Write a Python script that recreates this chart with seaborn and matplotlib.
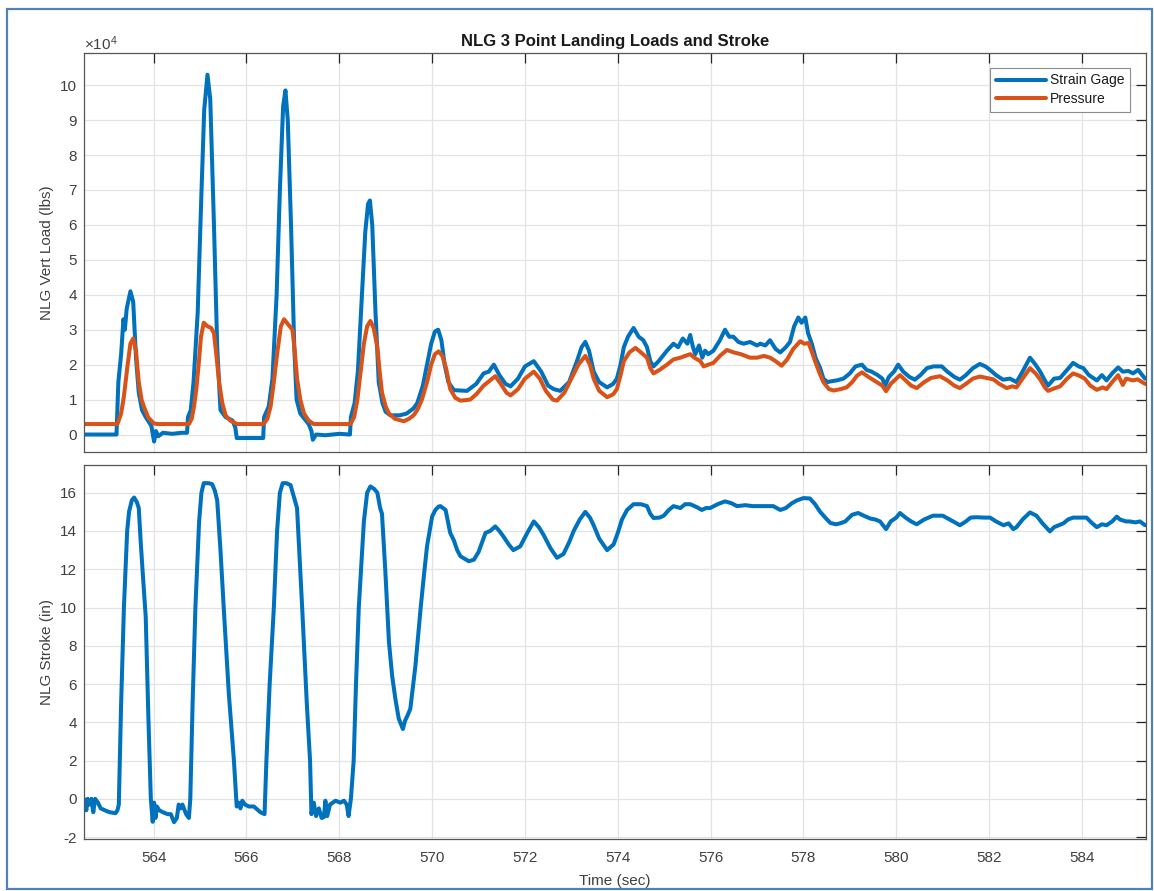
import numpy as np
import pandas as pd
import seaborn as sns
import matplotlib.pyplot as plt
from matplotlib.patches import Rectangle
from matplotlib.ticker import FuncFormatter

# ---- data (load values in units of 1e4 lbs) ----
sg_time = [562.5, 563.20, 563.24, 563.30, 563.35, 563.38, 563.42, 563.50, 563.56, 563.62,
           563.68, 563.75, 563.83, 563.95, 564.01, 564.05, 564.10, 564.2, 564.4, 564.6,
           564.72, 564.74, 564.80, 564.86, 564.95, 565.02, 565.09, 565.16, 565.22, 565.30,
           565.37, 565.44, 565.55, 565.70, 565.76, 565.79, 566.0, 566.36, 566.38, 566.48,
           566.56, 566.65, 566.72, 566.79, 566.84, 566.89, 566.96, 567.03, 567.08, 567.16,
           567.34, 567.40, 567.43, 567.5, 567.7, 568.0, 568.23, 568.25, 568.33, 568.40,
           568.48, 568.56, 568.62, 568.66, 568.71, 568.78, 568.85, 568.93, 569.0, 569.1,
           569.3, 569.45, 569.6, 569.68, 569.80, 569.89, 569.98, 570.06, 570.13, 570.20,
           570.27, 570.35, 570.47, 570.75, 570.95, 571.11, 571.22, 571.33, 571.45, 571.58,
           571.69, 571.85, 572.0, 572.19, 572.35, 572.5, 572.62, 572.76, 572.95, 573.12,
           573.22, 573.30, 573.38, 573.48, 573.60, 573.77, 573.90, 573.98, 574.06, 574.13,
           574.22, 574.34, 574.45, 574.55, 574.63, 574.70, 574.77, 574.88, 575.06, 575.2,
           575.3, 575.4, 575.5, 575.56, 575.62, 575.67, 575.75, 575.82, 575.88, 575.95,
           576.06, 576.2, 576.31, 576.40, 576.49, 576.6, 576.71, 576.85, 577.0, 577.07,
           577.18, 577.28, 577.40, 577.50, 577.62, 577.71, 577.80, 577.89, 577.96, 578.04,
           578.10, 578.18, 578.26, 578.36, 578.43, 578.52, 578.58, 578.72, 578.86, 579.0,
           579.12, 579.26, 579.36, 579.47, 579.60, 579.70, 579.76, 579.84, 579.95, 580.04,
           580.15, 580.28, 580.40, 580.52, 580.66, 580.80, 580.98, 581.10, 581.25, 581.37,
           581.50, 581.65, 581.80, 581.92, 582.02, 582.15, 582.30, 582.45, 582.59, 582.72,
           582.88, 583.00, 583.10, 583.20, 583.27, 583.40, 583.53, 583.68, 583.81, 583.93,
           584.03, 584.15, 584.32, 584.43, 584.53, 584.65, 584.78, 584.88, 585.00, 585.10,
           585.21, 585.30, 585.36]
sg_load = [0.0, 0.0, 1.5, 2.3, 3.3, 3.0, 3.6, 4.1, 3.8, 2.2,
           1.2, 0.7, 0.5, 0.25, -0.2, 0.1, -0.05, 0.05, 0.02, 0.05,
           0.05, 0.5, 0.7, 1.5, 3.5, 6.5, 9.3, 10.3, 9.6, 6.0,
           2.5, 0.7, 0.5, 0.4, 0.2, -0.1, -0.1, -0.1, 0.5, 0.8,
           1.6, 4.0, 7.0, 9.4, 9.85, 9.0, 6.0, 2.5, 1.0, 0.6,
           0.3, 0.1, -0.15, 0.0, -0.02, 0.02, 0.0, 0.5, 0.9, 1.8,
           3.8, 5.8, 6.6, 6.7, 6.0, 3.5, 1.5, 0.9, 0.65, 0.55,
           0.55, 0.6, 0.75, 0.9, 1.4, 2.0, 2.6, 2.95, 3.0, 2.7,
           2.0, 1.5, 1.27, 1.25, 1.45, 1.75, 1.8, 2.0, 1.7, 1.45,
           1.38, 1.6, 1.95, 2.1, 1.8, 1.4, 1.3, 1.25, 1.5, 2.1,
           2.5, 2.65, 2.4, 1.8, 1.5, 1.35, 1.45, 1.6, 2.0, 2.5,
           2.8, 3.05, 2.8, 2.7, 2.5, 2.1, 1.95, 2.1, 2.4, 2.6,
           2.5, 2.75, 2.6, 2.85, 2.5, 2.3, 2.55, 2.2, 2.4, 2.3,
           2.4, 2.7, 3.0, 2.8, 2.8, 2.65, 2.6, 2.65, 2.55, 2.6,
           2.55, 2.7, 2.45, 2.35, 2.5, 2.65, 3.1, 3.35, 3.2, 3.35,
           2.9, 2.6, 2.2, 1.9, 1.6, 1.5, 1.52, 1.55, 1.6, 1.75,
           1.95, 2.0, 1.85, 1.8, 1.7, 1.6, 1.4, 1.65, 1.8, 2.0,
           1.8, 1.65, 1.57, 1.7, 1.9, 1.95, 1.95, 1.8, 1.65, 1.57,
           1.7, 1.9, 2.02, 1.95, 1.85, 1.7, 1.57, 1.6, 1.5, 1.8,
           2.2, 2.0, 1.8, 1.55, 1.4, 1.6, 1.62, 1.85, 2.05, 1.95,
           1.9, 1.7, 1.55, 1.7, 1.55, 1.75, 1.92, 1.8, 1.82, 1.75,
           1.85, 1.7, 1.6]

pr_time = [562.5, 563.22, 563.30, 563.36, 563.44, 563.50, 563.56, 563.62, 563.68, 563.74,
           563.79, 563.88, 564.0, 564.1, 564.76, 564.82, 564.87, 564.92, 564.97, 565.02,
           565.08, 565.16, 565.24, 565.30, 565.35, 565.41, 565.48, 565.55, 565.65, 565.80,
           566.37, 566.45, 566.52, 566.58, 566.66, 566.74, 566.81, 566.90, 566.99, 567.04,
           567.09, 567.16, 567.24, 567.34, 567.45, 568.24, 568.32, 568.39, 568.46, 568.53,
           568.60, 568.67, 568.74, 568.82, 568.87, 568.92, 569.0, 569.07, 569.2, 569.39,
           569.5, 569.6, 569.68, 569.78, 569.89, 569.98, 570.06, 570.14, 570.22, 570.30,
           570.39, 570.50, 570.61, 570.82, 570.95, 571.11, 571.25, 571.36, 571.48, 571.60,
           571.69, 571.85, 572.0, 572.19, 572.32, 572.45, 572.60, 572.69, 572.85, 573.0,
           573.15, 573.30, 573.40, 573.48, 573.60, 573.77, 573.90, 573.98, 574.06, 574.13,
           574.25, 574.38, 574.50, 574.63, 574.70, 574.77, 574.90, 575.06, 575.2, 575.35,
           575.45, 575.56, 575.65, 575.78, 575.85, 575.95, 576.06, 576.20, 576.35, 576.50,
           576.65, 576.85, 577.0, 577.15, 577.28, 577.40, 577.53, 577.65, 577.78, 577.93,
           578.02, 578.11, 578.20, 578.25, 578.35, 578.43, 578.55, 578.65, 578.80, 578.93,
           579.05, 579.15, 579.26, 579.40, 579.58, 579.70, 579.78, 579.88, 580.0, 580.08,
           580.20, 580.32, 580.44, 580.60, 580.75, 580.94, 581.10, 581.25, 581.37, 581.50,
           581.65, 581.80, 581.95, 582.09, 582.22, 582.38, 582.50, 582.59, 582.72, 582.88,
           583.0, 583.10, 583.20, 583.27, 583.40, 583.53, 583.68, 583.81, 583.95, 584.06,
           584.18, 584.32, 584.45, 584.53, 584.65, 584.78, 584.88, 584.95, 585.10, 585.20,
           585.30, 585.36]
pr_load = [0.3, 0.3, 0.6, 1.1, 2.0, 2.6, 2.75, 2.4, 1.5, 1.0,
           0.8, 0.5, 0.32, 0.3, 0.3, 0.45, 0.8, 1.3, 2.0, 2.8,
           3.2, 3.1, 3.05, 2.9, 2.3, 1.5, 0.9, 0.55, 0.4, 0.3,
           0.3, 0.45, 0.8, 1.4, 2.3, 3.1, 3.3, 3.15, 3.0, 2.4,
           1.6, 1.0, 0.6, 0.4, 0.3, 0.3, 0.5, 1.0, 1.8, 2.6,
           3.1, 3.25, 3.05, 2.5, 1.8, 1.2, 0.8, 0.6, 0.45, 0.38,
           0.45, 0.55, 0.7, 1.0, 1.5, 2.0, 2.3, 2.38, 2.25, 1.9,
           1.3, 1.05, 0.97, 1.0, 1.15, 1.4, 1.55, 1.67, 1.45, 1.2,
           1.12, 1.3, 1.6, 1.8, 1.6, 1.25, 1.0, 0.97, 1.2, 1.6,
           2.0, 2.25, 2.0, 1.6, 1.25, 1.07, 1.15, 1.3, 1.7, 2.1,
           2.35, 2.48, 2.35, 2.2, 1.9, 1.75, 1.85, 2.0, 2.15, 2.2,
           2.25, 2.3, 2.2, 2.1, 1.95, 2.0, 2.05, 2.25, 2.42, 2.35,
           2.3, 2.2, 2.2, 2.25, 2.2, 2.1, 1.97, 2.15, 2.45, 2.67,
           2.6, 2.62, 2.3, 2.1, 1.75, 1.5, 1.3, 1.26, 1.3, 1.35,
           1.5, 1.68, 1.78, 1.65, 1.5, 1.4, 1.24, 1.45, 1.6, 1.7,
           1.55, 1.4, 1.33, 1.5, 1.62, 1.67, 1.55, 1.4, 1.33, 1.45,
           1.6, 1.66, 1.62, 1.58, 1.45, 1.33, 1.38, 1.35, 1.6, 1.9,
           1.75, 1.58, 1.35, 1.25, 1.32, 1.38, 1.6, 1.75, 1.68, 1.6,
           1.4, 1.28, 1.35, 1.3, 1.5, 1.7, 1.42, 1.6, 1.55, 1.58,
           1.5, 1.45]

st_time = [562.50, 562.55, 562.58, 562.62, 562.66, 562.70, 562.74, 562.80, 562.86, 562.95,
           563.05, 563.18, 563.22, 563.25, 563.30, 563.36, 563.43, 563.47, 563.53, 563.58,
           563.64, 563.68, 563.72, 563.76, 563.83, 563.89, 563.94, 563.98, 564.01, 564.04,
           564.07, 564.12, 564.20, 564.30, 564.37, 564.44, 564.50, 564.54, 564.58, 564.62,
           564.70, 564.76, 564.79, 564.84, 564.90, 564.98, 565.03, 565.08, 565.18, 565.26,
           565.32, 565.37, 565.44, 565.51, 565.62, 565.73, 565.79, 565.83, 565.87, 565.91,
           565.97, 566.05, 566.16, 566.30, 566.39, 566.43, 566.50, 566.59, 566.66, 566.72,
           566.78, 566.86, 566.95, 567.02, 567.09, 567.20, 567.30, 567.37, 567.40, 567.45,
           567.50, 567.56, 567.62, 567.67, 567.70, 567.74, 567.80, 567.92, 568.02, 568.10,
           568.16, 568.20, 568.25, 568.31, 568.36, 568.42, 568.48, 568.53, 568.60, 568.67,
           568.75, 568.82, 568.88, 568.92, 568.99, 569.07, 569.14, 569.21, 569.28, 569.33,
           569.37, 569.42, 569.46, 569.53, 569.64, 569.75, 569.82, 569.89, 570.0, 570.07,
           570.14, 570.18, 570.29, 570.39, 570.47, 570.54, 570.61, 570.79, 570.90, 571.00,
           571.15, 571.25, 571.36, 571.45, 571.54, 571.65, 571.75, 571.90, 572.05, 572.19,
           572.30, 572.40, 572.55, 572.69, 572.83, 572.95, 573.05, 573.18, 573.30, 573.40,
           573.48, 573.60, 573.77, 573.91, 574.00, 574.09, 574.20, 574.34, 574.50, 574.63,
           574.70, 574.77, 574.90, 574.99, 575.10, 575.20, 575.35, 575.45, 575.56, 575.70,
           575.81, 575.90, 575.99, 576.15, 576.31, 576.45, 576.57, 576.75, 576.90, 577.05,
           577.21, 577.35, 577.50, 577.62, 577.75, 577.86, 578.00, 578.14, 578.25, 578.36,
           578.47, 578.58, 578.70, 578.79, 578.90, 579.05, 579.18, 579.30, 579.44, 579.55,
           579.65, 579.78, 579.88, 580.0, 580.08, 580.20, 580.32, 580.44, 580.60, 580.79,
           581.0, 581.15, 581.30, 581.37, 581.50, 581.60, 581.73, 581.90, 582.02, 582.15,
           582.31, 582.42, 582.52, 582.59, 582.72, 582.88, 583.02, 583.15, 583.31, 583.40,
           583.50, 583.60, 583.70, 583.81, 584.00, 584.10, 584.20, 584.32, 584.43, 584.53,
           584.65, 584.75, 584.82, 584.95, 585.03, 585.15, 585.25, 585.36]
st_stroke = [0.0, -0.6, 0.0, -0.3, 0.0, -0.7, 0.0, -0.2, -0.5, -0.6,
             -0.7, -0.75, -0.6, -0.3, 5.0, 10.0, 14.0, 15.0, 15.6, 15.75,
             15.5, 15.2, 13.5, 12.0, 9.5, 4.0, 0.0, -1.2, -0.2, -1.0,
             -0.4, -0.6, -0.7, -0.8, -0.8, -1.22, -1.0, -0.3, -0.5, -0.3,
             -0.8, -1.0, 0.0, 5.0, 10.0, 14.5, 16.0, 16.5, 16.5, 16.45,
             16.1, 15.6, 13.0, 10.0, 5.5, 2.0, -0.4, -0.2, -0.5, -0.1,
             -0.3, -0.4, -0.4, -0.7, -0.8, 2.0, 6.0, 10.0, 14.0, 16.0,
             16.5, 16.5, 16.4, 15.8, 15.2, 10.0, 5.0, 2.0, -0.8, -0.2,
             -0.9, -0.5, -1.0, -0.95, -0.1, -0.9, -0.3, -0.1, -0.2, -0.1,
             -0.3, -0.9, 0.0, 2.0, 6.0, 10.0, 12.5, 14.5, 16.0, 16.33,
             16.2, 16.0, 15.2, 14.9, 12.0, 8.2, 6.4, 5.2, 4.2, 3.9,
             3.65, 4.1, 4.3, 4.7, 6.95, 9.9, 11.6, 13.2, 14.76, 15.1,
             15.28, 15.3, 15.1, 13.9, 13.5, 13.0, 12.68, 12.42, 12.5, 12.9,
             13.9, 14.0, 14.24, 14.0, 13.7, 13.3, 13.0, 13.2, 13.9, 14.5,
             14.2, 13.8, 13.1, 12.6, 12.8, 13.4, 14.0, 14.6, 15.0, 14.7,
             14.3, 13.6, 13.0, 13.3, 13.9, 14.6, 15.1, 15.4, 15.4, 15.3,
             14.9, 14.68, 14.7, 14.8, 15.1, 15.3, 15.2, 15.4, 15.4, 15.25,
             15.1, 15.2, 15.2, 15.4, 15.55, 15.45, 15.3, 15.35, 15.3, 15.3,
             15.3, 15.3, 15.1, 15.2, 15.45, 15.6, 15.72, 15.7, 15.4, 15.0,
             14.7, 14.42, 14.35, 14.4, 14.5, 14.85, 14.94, 14.8, 14.65, 14.6,
             14.5, 14.1, 14.5, 14.7, 14.94, 14.7, 14.5, 14.35, 14.6, 14.8,
             14.8, 14.6, 14.4, 14.3, 14.5, 14.7, 14.72, 14.7, 14.7, 14.5,
             14.3, 14.4, 14.1, 14.2, 14.6, 14.97, 14.8, 14.4, 13.98, 14.2,
             14.3, 14.4, 14.6, 14.7, 14.7, 14.7, 14.45, 14.2, 14.35, 14.3,
             14.5, 14.75, 14.6, 14.5, 14.5, 14.45, 14.5, 14.3]

LOAD_SCALE = 1e4
time_ticks = list(range(564, 586, 2))
load_ticks = list(range(0, 11))
stroke_ticks = list(range(-2, 17, 2))

BLUE = "#0072BD"
ORANGE = "#D95319"
AXCOL = "#262626"
TXTCOL = "#404040"

sns.set_theme(style="white")
plt.rcParams['font.family'] = ['Liberation Sans', 'DejaVu Sans']
plt.rcParams['mathtext.fontset'] = 'custom'
plt.rcParams['mathtext.rm'] = 'Liberation Sans'
plt.rcParams['axes.unicode_minus'] = False

sg = pd.DataFrame({'t': sg_time, 'load': np.array(sg_load) * LOAD_SCALE})
pr = pd.DataFrame({'t': pr_time, 'load': np.array(pr_load) * LOAD_SCALE})
st = pd.DataFrame({'t': st_time, 'stroke': st_stroke})

fig = plt.figure(figsize=(11.54, 8.91), dpi=100)
ax1 = fig.add_axes([84/1154, 1-452/891, (1146-84)/1154, (452-52.7)/891])
ax2 = fig.add_axes([84/1154, 1-839/891, (1146-84)/1154, (839-465)/891], sharex=ax1)

sns.lineplot(data=sg, x='t', y='load', ax=ax1, color=BLUE, lw=2.9,
             estimator=None, sort=False, label='Strain Gage')
sns.lineplot(data=pr, x='t', y='load', ax=ax1, color=ORANGE, lw=2.9,
             estimator=None, sort=False, label='Pressure')
sns.lineplot(data=st, x='t', y='stroke', ax=ax2, color=BLUE, lw=2.9,
             estimator=None, sort=False, legend=False)

for ax in (ax1, ax2):
    ax.set_xlim(562.5, 585.38)
    ax.set_xticks(time_ticks)
    ax.grid(True, color='#e3e3e3', lw=0.9)
    ax.set_axisbelow(True)
    ax.tick_params(direction='in', top=True, right=True, length=7, width=0.9,
                   color=AXCOL, labelcolor=TXTCOL, labelsize=11, pad=5)
    for sp in ax.spines.values():
        sp.set_color('#555555')
        sp.set_linewidth(0.9)
    ax.yaxis.set_label_coords(-0.028, 0.5)

ax1.set_ylim(-0.5 * LOAD_SCALE, 10.93 * LOAD_SCALE)
ax1.set_yticks([v * LOAD_SCALE for v in load_ticks])
ax1.yaxis.set_major_formatter(FuncFormatter(lambda v, _: f"{v / LOAD_SCALE:g}"))
ax1.tick_params(axis='x', labelbottom=False)
ax1.set_xlabel('')
ax1.set_ylabel('NLG Vert Load (lbs)', fontsize=11, color=TXTCOL)
ax1.set_title('NLG 3 Point Landing Loads and Stroke', fontsize=12,
              fontweight='bold', color='#1a1a1a', pad=5)
fig.text(84/1154, 1-44/891, r'$\times\mathregular{10^4}$', fontsize=11,
         color=TXTCOL, ha='left', va='center')

leg = ax1.legend(loc='upper right', bbox_to_anchor=(0.985, 0.962), fontsize=10,
                 handlelength=3.6, handletextpad=0.3, borderpad=0.4,
                 labelspacing=0.35, fancybox=False, framealpha=1,
                 borderaxespad=0)
leg.get_frame().set_edgecolor('#8c8c8c')
leg.get_frame().set_linewidth(0.8)
for txt in leg.get_texts():
    txt.set_color('#1a1a1a')

ax2.set_ylim(-2.1, 17.45)
ax2.set_yticks(stroke_ticks)
ax2.tick_params(axis='x', pad=9)
ax2.set_xlabel('Time (sec)', fontsize=11, color=TXTCOL, labelpad=6)
ax2.set_ylabel('NLG Stroke (in)', fontsize=11, color=TXTCOL)

# blue document frame around the figure
fig.patches.append(Rectangle((7/1154, 2/891), 1145/1154, 880/891,
                             transform=fig.transFigure, fill=False,
                             edgecolor='#4f81bd', lw=1.6))

fig.savefig('out.png', dpi=100)
